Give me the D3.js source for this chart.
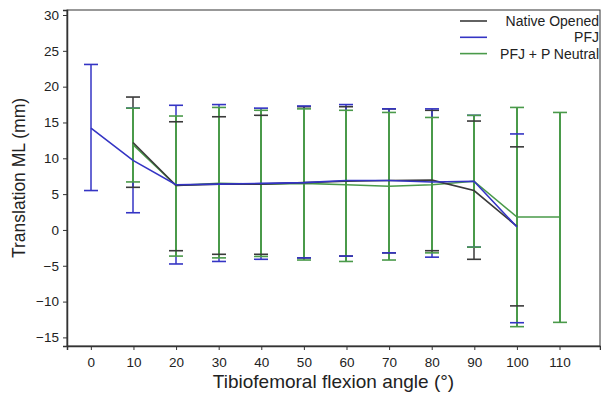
<!DOCTYPE html>
<html>
<head>
<meta charset="utf-8">
<script src="https://cdn.jsdelivr.net/npm/d3@7"></script>
<style>
body { margin: 0; background: #fff; }
text { font-family: "Liberation Sans", Arial, sans-serif; fill: #222; }
</style>
</head>
<body>
<div class="chart"></div>
<script>
const svgWidth = 601
const svgHeight = 407

let margin = { top: 10, right: 1, left: 67, bottom: 61 }
let width = svgWidth - margin.left - margin.right
let height = svgHeight - margin.top - margin.bottom

// flexion angles
const angles = [0, 10, 20, 30, 40, 50, 60, 70, 80, 90, 100, 110]
const yTicks = [-15, -10, -5, 0, 5, 10, 15, 20, 25, 30]

// Native Opened
const nativeMean  = [null, 12.2, 6.2, 6.4, 6.4, 6.6, 6.8, 6.9, 6.95, 5.5, 0.5, null]
const nativeUpper = [null, 18.55, 15.1, 15.8, 16.0, 17.2, 17.2, 16.9, 16.7, 15.2, 11.6, null]
const nativeLower = [null, 5.95, -2.9, -3.4, -3.4, -3.9, -3.65, -3.2, -2.9, -4.1, -10.6, null]

// PFJ
const pfjMean  = [14.2, 9.7, 6.3, 6.4, 6.5, 6.6, 6.9, 6.9, 6.7, 6.8, 0.4, null]
const pfjUpper = [23.1, 17.0, 17.4, 17.5, 17.0, 17.3, 17.5, 16.9, 16.9, 16.0, 13.4, null]
const pfjLower = [5.5, 2.4, -4.75, -4.4, -4.1, -3.9, -3.65, -3.2, -3.8, -2.4, -12.95, null]

// PFJ + P Neutral
const neutralMean  = [null, 11.9, 6.2, 6.5, 6.4, 6.5, 6.3, 6.1, 6.3, 6.8, 1.8, 1.8]
const neutralUpper = [null, 17.0, 15.9, 17.1, 16.7, 16.9, 16.7, 16.4, 15.7, 16.0, 17.1, 16.4]
const neutralLower = [null, 6.7, -3.65, -3.9, -3.7, -4.2, -4.4, -4.2, -3.2, -2.4, -13.5, -12.9]

const seriesNames = ["Native Opened", "PFJ", "PFJ + P Neutral"]
const seriesColors = ["#3a3a3a", "#3434c4", "#4a9a4a"]

let series = [
	{ name: seriesNames[0], color: seriesColors[0], mean: nativeMean, up: nativeUpper, lo: nativeLower },
	{ name: seriesNames[1], color: seriesColors[1], mean: pfjMean, up: pfjUpper, lo: pfjLower },
	{ name: seriesNames[2], color: seriesColors[2], mean: neutralMean, up: neutralUpper, lo: neutralLower }
]

let svg = d3.select(".chart")
	.append("svg")
	.attr("width", svgWidth)
	.attr("height", svgHeight)

let chartGroup = svg.append("g")
	.attr("transform", `translate(${margin.left}, ${margin.top})`)

let xScale = d3.scaleLinear().domain([-5.6, 119.5]).range([0, width])
let yScale = d3.scaleLinear().domain([-16.2, 30.7]).range([height, 0])

// frame
chartGroup.append("rect")
	.attr("width", width)
	.attr("height", height)
	.attr("fill", "none")
	.attr("stroke", "#333")
	.attr("stroke-width", 1)

let xAxis = chartGroup.append("g")
	.attr("transform", `translate(0, ${height})`)
	.call(d3.axisBottom(xScale).tickValues(angles).tickSize(4).tickPadding(7))
let yAxis = chartGroup.append("g")
	.call(d3.axisLeft(yScale).tickValues(yTicks).tickSize(4).tickPadding(4))

;[xAxis, yAxis].forEach(a => {
	a.select(".domain").attr("stroke", "#333").attr("stroke-width", 1.5)
	a.selectAll(".tick line").attr("stroke", "#333")
	a.selectAll(".tick text").style("font-size", "13.5px").attr("fill", "#222")
})

// error bars: verticals first, then caps
const capHalf = 7
const xPix = a => Math.round(xScale(a))
let barData = series.map(s => angles.map((a, i) => ({ a, up: s.up[i], lo: s.lo[i] })).filter(d => d.up != null))

series.forEach((s, k) => {
	chartGroup.append("g")
		.attr("stroke", s.color)
		.attr("stroke-width", k == 2 ? 2 : 1.5)
		.selectAll("line").data(barData[k]).enter().append("line")
		.attr("x1", d => xPix(d.a)).attr("x2", d => xPix(d.a))
		.attr("y1", d => yScale(d.up)).attr("y2", d => yScale(d.lo))
})

series.forEach((s, k) => {
	let g = chartGroup.append("g").attr("stroke", s.color).attr("stroke-width", 1.6)
	;["up", "lo"].forEach(key => {
		g.selectAll(".c" + key).data(barData[k]).enter().append("line")
			.attr("x1", d => xPix(d.a) - capHalf).attr("x2", d => xPix(d.a) + capHalf)
			.attr("y1", d => yScale(d[key])).attr("y2", d => yScale(d[key]))
	})
})

// mean lines
let line = d3.line()
	.defined(d => d.v != null)
	.x(d => xPix(d.a))
	.y(d => yScale(d.v))

;[2, 0, 1].forEach(k => {
	let s = series[k]
	chartGroup.append("path")
		.datum(angles.map((a, i) => ({ a, v: s.mean[i] })))
		.attr("fill", "none")
		.attr("stroke", s.color)
		.attr("stroke-width", 1.6)
		.attr("d", line)
})

// legend
let legend = svg.append("g")
series.forEach((s, i) => {
	let y = 21 + i * 16.3
	legend.append("line")
		.attr("x1", 460).attr("x2", 487)
		.attr("y1", y).attr("y2", y)
		.attr("stroke", s.color).attr("stroke-width", 1.6)
	legend.append("text")
		.attr("x", 599).attr("y", y + 5)
		.attr("text-anchor", "end")
		.style("font-size", "14px")
		.text(s.name)
})

// axis titles
svg.append("text")
	.attr("x", margin.left + width / 2)
	.attr("y", 388)
	.attr("text-anchor", "middle")
	.style("font-size", "19px")
	.text("Tibiofemoral flexion angle (°)")

svg.append("text")
	.attr("transform", `translate(25, ${margin.top + height / 2}) rotate(-90)`)
	.attr("text-anchor", "middle")
	.style("font-size", "17.5px")
	.text("Translation ML (mm)")
</script>
</body>
</html>
